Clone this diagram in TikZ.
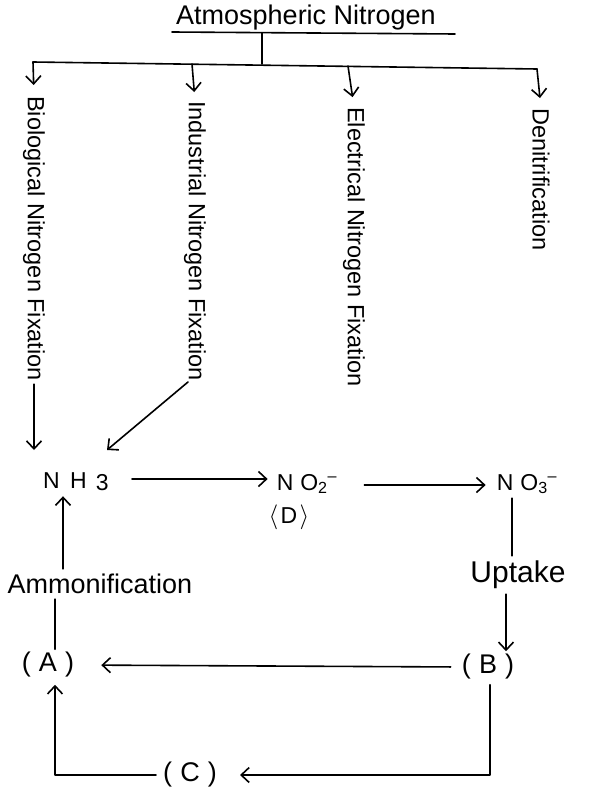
\documentclass[tikz,border=0pt]{standalone}
\usepackage{fontspec}
\setmainfont{Liberation Sans}
\usetikzlibrary{arrows.meta}
\begin{document}
\begin{tikzpicture}[x=1pt,y=-1pt,
  ln/.style={line width=1.6pt, line cap=round, line join=round},
  arr/.style={ln, -{Straight Barb[length=8pt,width=15pt,line width=1.6pt]}},
  vlab/.style={rotate=-90, anchor=west, inner sep=0pt, font=\fontsize{23.5}{25}\selectfont},
  lab/.style={inner sep=1pt, font=\fontsize{22}{24}\selectfont}]
\useasboundingbox (0,0) rectangle (590,797);
% title and tree
\node[lab, inner sep=0pt, font=\fontsize{27}{29}\selectfont] (title) at (306,18) {Atmospheric Nitrogen};
\coordinate (ulL) at (172,32);
\coordinate (ulR) at (455,34);
\coordinate (stem) at (262,33);
\coordinate (d1) at (33,62);
\coordinate (d2) at (192,64);
\coordinate (d3) at (348,66);
\coordinate (d4) at (537,69);
\draw[ln] (ulL) -- (ulR);
\draw[ln] (stem) -- (stem |- d2);
\draw[ln] (d1) -- (d4);
\node[vlab] (bio) at (34,96) {Biological Nitrogen Fixation};
\node[vlab] (ind) at (195,101) {Industrial Nitrogen Fixation};
\node[vlab] (ele) at (354,107) {Electrical Nitrogen Fixation};
\node[vlab] (den) at (541,108) {Denitrification};
\draw[arr, shorten >=11pt] (d1) -- (bio.west);
\draw[arr, shorten >=9pt] (d2) -- (ind.west);
\draw[arr, shorten >=10pt] (d3) -- (ele.west);
\draw[arr, shorten >=10pt] (d4) -- (den.west);
% middle row
\node[lab, font=\fontsize{23}{25}\selectfont] (nh3) at (76,482) {N\hspace{0.45em}H\hspace{0.4em}\raisebox{-2pt}{3}};
\node[lab, font=\fontsize{23}{25}\selectfont] (no2) at (307,484) {N\hspace{0.3em}O\textsubscript{2}\textsuperscript{--}};
\node[lab, font=\fontsize{23}{25}\selectfont] (d) at (289,517) {$\langle$\hspace{0.1em}D\hspace{0.1em}$\rangle$};
\node[lab, font=\fontsize{23}{25}\selectfont] (no3) at (527,484) {N\hspace{0.3em}O\textsubscript{3}\textsuperscript{--}};
\coordinate (i1) at (188,382);
\coordinate (i2) at (107,450);
\draw[arr] (bio.east) ++(0,3) coordinate (b1) -- (b1 |- i2);
\draw[arr] (i1) -- (i2);
\draw[arr, shorten <=22pt, shorten >=8pt] (nh3.east |- 0,479) -- (no2.west |- 0,479);
\draw[arr, shorten <=26pt, shorten >=10pt] (no2.east |- 0,485) -- (no3.west |- 0,485);
% lower loop
\node[lab, font=\fontsize{30}{32}\selectfont] (upt) at (518,575) {Uptake};
\node[lab, font=\fontsize{27}{29}\selectfont] (amm) at (100,584) {Ammonification};
\node[lab, font=\fontsize{27}{29}\selectfont] (a) at (48,665) {(\hspace{0.3em}A\hspace{0.3em})};
\node[lab, font=\fontsize{27}{29}\selectfont] (b) at (488,667) {(\hspace{0.3em}B\hspace{0.3em})};
\node[lab, font=\fontsize{27}{29}\selectfont] (c) at (190,775) {(\hspace{0.3em}C\hspace{0.3em})};
\draw[ln, shorten <=3pt, shorten >=4pt] ([xshift=-15pt]no3.south) -- ([xshift=-6pt]upt.north);
\draw[arr, shorten <=4pt, shorten >=2pt] ([xshift=-12pt]upt.south) -- ([xshift=18pt]b.north);
\draw[arr, shorten <=10pt, shorten >=26pt] (b.west) -- (a.east);
\draw[arr, shorten <=4pt, shorten >=4pt] ([xshift=-37pt]amm.north) -- ([xshift=-13pt]nh3.south);
\draw[ln, shorten <=4pt, shorten >=2pt] ([xshift=-45pt]amm.south) -- ([xshift=7pt]a.north);
\draw[arr, shorten <=4pt, shorten >=22pt] ([xshift=2pt]b.south) |- (c.east);
\draw[arr, shorten <=6pt, shorten >=6pt] (c.west) -| ([xshift=7pt]a.south);
\end{tikzpicture}
\end{document}
